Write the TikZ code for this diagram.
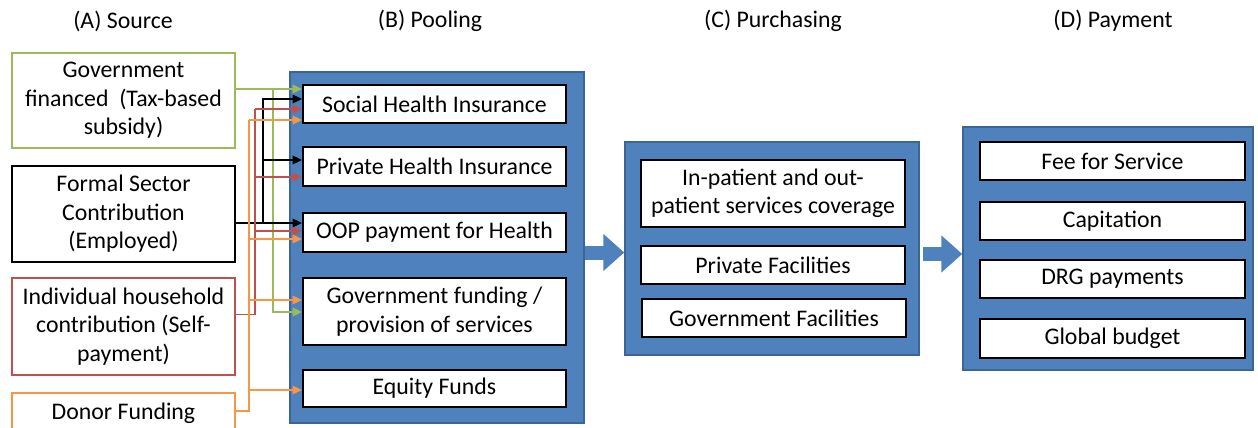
\documentclass[tikz,border=0pt]{standalone}
\usepackage{fontspec}
\setmainfont{Carlito}
\usetikzlibrary{arrows.meta}
\definecolor{pblue}{HTML}{4F81BD}
\definecolor{pedge}{HTML}{3B6594}
\definecolor{cgreen}{HTML}{9BBB59}
\definecolor{cred}{HTML}{C0504D}
\definecolor{corange}{HTML}{F79646}
\newcommand\myfs{\fontsize{23.8}{28.5}\selectfont}
\begin{document}
\begin{tikzpicture}[x=1pt,y=-1pt,
  panel/.style={draw=pedge,line width=1.5pt,fill=pblue,inner sep=0pt},
  ibox/.style={draw=black,line width=1.8pt,fill=white,inner sep=0pt,align=center,font=\myfs},
  sbox/.style={line width=1.8pt,fill=white,inner sep=0pt,align=center,font=\myfs,minimum width=223pt},
  ttl/.style={font=\myfs,inner sep=0pt},
  conn/.style={line width=1.8pt,-{Triangle[length=9.5pt,width=8.5pt]}},
  seg/.style={line width=1.8pt},
  bigarrow/.style={draw=pblue,line width=14pt,-{Triangle[length=21pt,width=36pt]}}]
\useasboundingbox (0,0) rectangle (1258,428);

% titles
\node[ttl] (tA) at (123,21) {(A) Source};
\node[ttl] (tB) at (430,21) {(B) Pooling};
\node[ttl] (tC) at (773,21) {(C) Purchasing};
\node[ttl] (tD) at (1113,21) {(D) Payment};

% sources
\node[sbox,draw=cgreen,minimum height=95pt] (gov) at (123.5,100.5) {Government\\financed\ \ (Tax-based\\subsidy)};
\node[sbox,draw=black,minimum height=96pt] (formal) at (123.5,214) {Formal Sector\\Contribution\\(Employed)};
\node[sbox,draw=cred,minimum height=97pt] (indiv) at (123.5,326.5) {Individual household\\contribution (Self-\\payment)};
\node[sbox,draw=corange,minimum height=40pt] (donor) at (123.5,413) {Donor Funding};

% panels
\node[panel,minimum width=294pt,minimum height=351pt] (pool) at (437,247.5) {};
\node[panel,minimum width=294pt,minimum height=213pt] (purch) at (772,248.5) {};
\node[panel,minimum width=290pt,minimum height=243pt] (pay) at (1108,248.5) {};

% pooling
\node[ibox,minimum width=263pt,minimum height=38pt] (shi) at (434.5,104) {Social Health Insurance};
\node[ibox,minimum width=263pt,minimum height=39pt] (phi) at (434.5,166.5) {Private Health Insurance};
\node[ibox,minimum width=263pt,minimum height=39pt] (oop) at (434.5,232.5) {OOP payment for Health};
\node[ibox,minimum width=263pt,minimum height=67pt] (gfund) at (434.5,311.5) {Government funding /\\provision of services};
\node[ibox,minimum width=263pt,minimum height=37pt] (equity) at (434.5,388.5) {Equity Funds};

% purchasing
\node[ibox,minimum width=264pt,minimum height=67pt] (inpat) at (773,193.5) {In-patient and out-\\patient services coverage};
\node[ibox,minimum width=264pt,minimum height=38pt] (privf) at (773,265) {Private Facilities};
\node[ibox,minimum width=264pt,minimum height=38pt] (govf) at (774,318) {Government Facilities};

% payment
\node[ibox,minimum width=265pt,minimum height=38pt] (fee) at (1112.5,161) {Fee for Service};
\node[ibox,minimum width=265pt,minimum height=38pt] (cap) at (1112.5,221) {Capitation};
\node[ibox,minimum width=265pt,minimum height=38pt] (drg) at (1112.5,279) {DRG payments};
\node[ibox,minimum width=265pt,minimum height=39pt] (glob) at (1112.5,338.5) {Global budget};

% junctions
\coordinate (gj) at (273,89);
\coordinate (bj) at (263,223);
\coordinate (rt) at (255,109);
\coordinate (ot) at (249,120);

% green
\draw[conn,cgreen] ([yshift=11.5pt]gov.east) -- ([yshift=15pt]shi.west);
\draw[conn,cgreen] (gj) |- ([yshift=-0.5pt]gfund.west);

% black
\draw[conn] ([yshift=-9pt]formal.east) -- ([yshift=9.5pt]oop.west);
\draw[conn] (bj) |- ([yshift=5pt]shi.west);
\draw[conn] (bj) |- ([yshift=6.5pt]phi.west);

% red
\draw[seg,cred] ([yshift=12pt]indiv.east) -| (rt);
\draw[conn,cred] (rt) -- ([yshift=-5pt]shi.west);
\draw[conn,cred] (rt) |- ([yshift=-10.5pt]phi.west);
\draw[conn,cred] (rt) |- ([yshift=1.5pt]oop.west);

% orange
\draw[seg,corange] ([yshift=2pt]donor.east) -| (ot);
\draw[conn,corange] (ot) -- ([yshift=-16pt]shi.west);
\draw[conn,corange] (ot) |- ([yshift=-6.5pt]oop.west);
\draw[conn,corange] (ot) |- ([yshift=11.5pt]gfund.west);
\draw[conn,corange] (ot) |- ([yshift=-1.5pt]equity.west);

% big arrows
\coordinate (a1) at ([yshift=-5pt]pool.east);
\draw[bigarrow] (a1) -- (a1 -| purch.west);
\coordinate (a2) at ([yshift=-5.5pt]purch.east);
\draw[bigarrow] ([xshift=3pt]a2) -- (a2 -| pay.west);
\end{tikzpicture}
\end{document}
